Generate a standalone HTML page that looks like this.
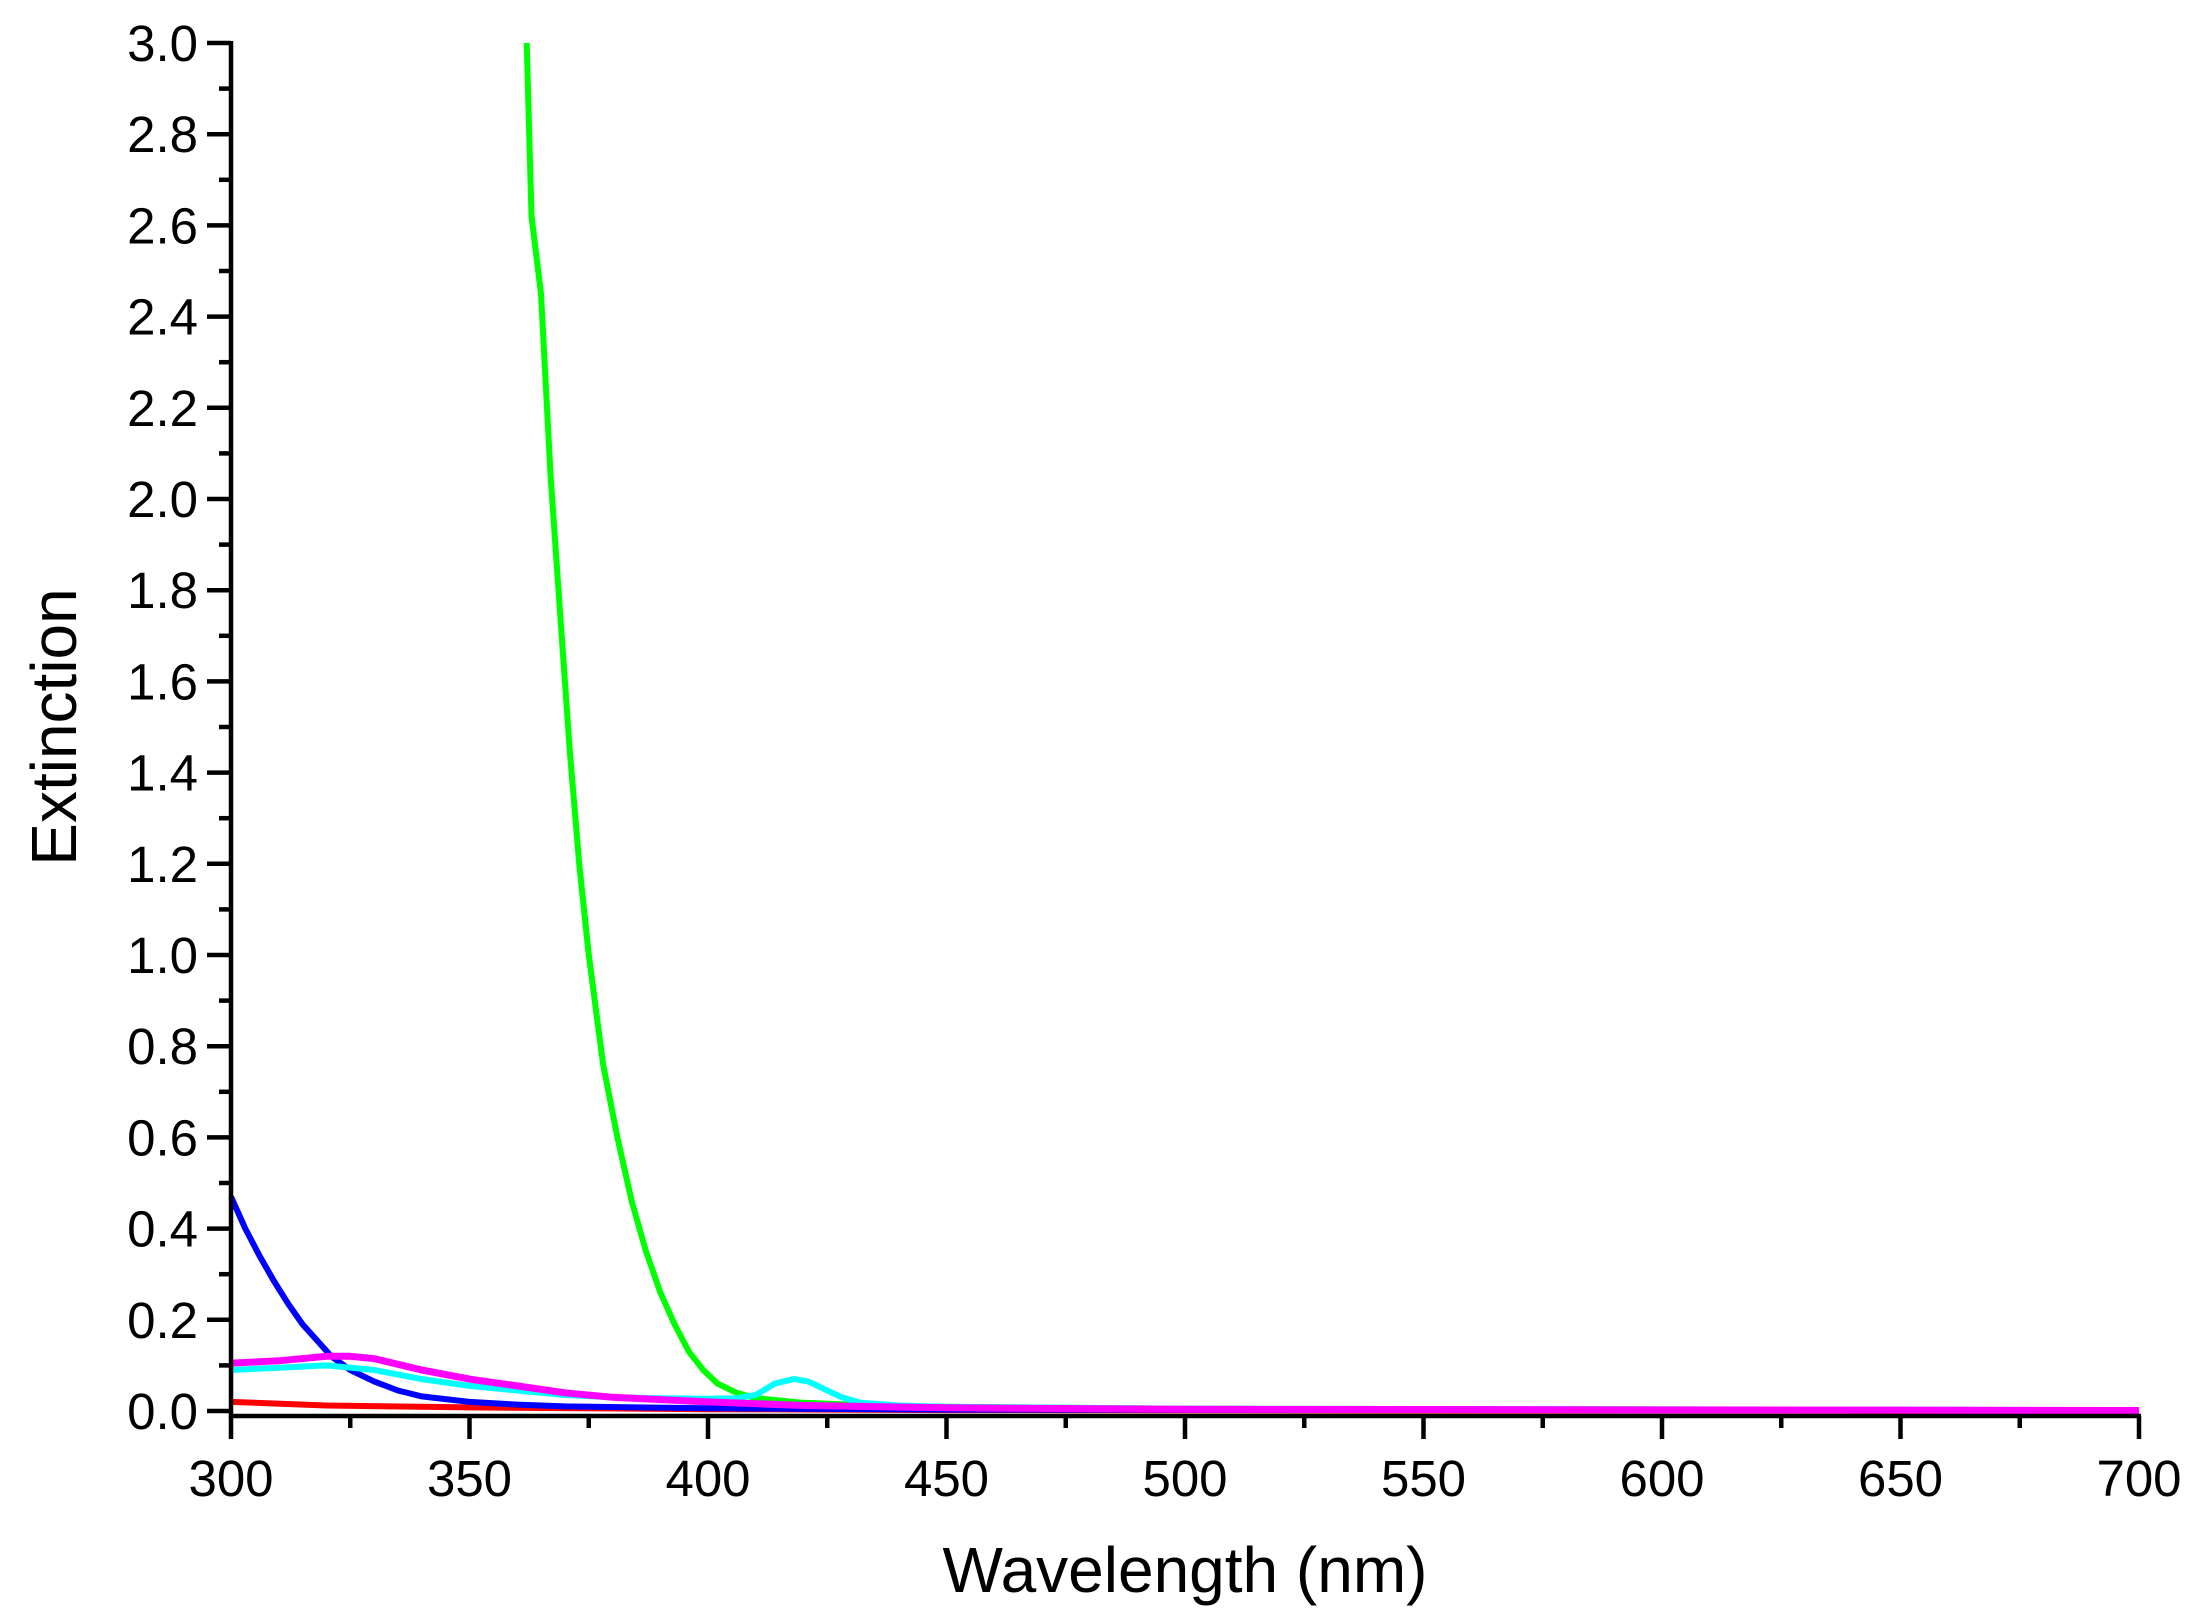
<!DOCTYPE html>
<html><head><meta charset="utf-8"><style>
body{margin:0;background:#fff}
svg{display:block;font-family:"Liberation Sans",Arial,sans-serif}
</style></head><body>
<svg id="chart" width="2197" height="1617" viewBox="0 0 2197 1617" xmlns="http://www.w3.org/2000/svg">
<g id="plot"></g>
<g id="axes"></g>
<text x="1185" y="1592" font-size="64" text-anchor="middle">Wavelength (nm)</text>
<text transform="translate(76,727) rotate(-90)" font-size="64" text-anchor="middle">Extinction</text>
</svg>
<script>
const xTicks=[300,350,400,450,500,550,600,650,700];
const yTicks=[0,0.2,0.4,0.6,0.8,1.0,1.2,1.4,1.6,1.8,2.0,2.2,2.4,2.6,2.8,3.0];
const yTickLabels=["0.0","0.2","0.4","0.6","0.8","1.0","1.2","1.4","1.6","1.8","2.0","2.2","2.4","2.6","2.8","3.0"];
const redX=[300,320,350,400,450,550,700];
const redY=[0.02,0.012,0.008,0.004,0.002,0.001,0];
const blueX=[300,303,306,309,312,315,318,321,325,330,335,340,350,360,370,400,450,700];
const blueY=[0.47,0.4,0.34,0.285,0.235,0.19,0.155,0.12,0.09,0.065,0.045,0.032,0.02,0.014,0.01,0.006,0.003,0.001];
const greenX=[362,363,365,367,369,371,373,375,378,381,384,387,390,393,396,399,402,406,410,420,440,500,700];
const greenY=[3.0,2.62,2.45,2.05,1.75,1.45,1.2,1.0,0.76,0.6,0.46,0.35,0.26,0.19,0.13,0.09,0.06,0.04,0.028,0.018,0.01,0.005,0.002];
const cyanX=[300,310,320,330,340,350,360,370,380,390,400,406,410,414,418,421,424,428,432,440,450,500,700];
const cyanY=[0.09,0.095,0.1,0.09,0.07,0.055,0.045,0.035,0.03,0.028,0.027,0.028,0.035,0.06,0.07,0.065,0.05,0.03,0.018,0.012,0.009,0.005,0.002];
const magX=[300,310,320,325,330,340,350,360,370,380,400,420,450,500,700];
const magY=[0.105,0.11,0.12,0.12,0.115,0.09,0.07,0.055,0.04,0.03,0.02,0.012,0.007,0.004,0.001];

const NS="http://www.w3.org/2000/svg";
const X0=231,X1=2139,Y0=1411,Y3=43;
const sx=v=>X0+(v-300)/400*(X1-X0);
const sy=v=>Y0-v/3*(Y0-Y3);
const plot=document.getElementById('plot'),axes=document.getElementById('axes');
function mk(tag,attrs,parent){const e=document.createElementNS(NS,tag);for(const k in attrs)e.setAttribute(k,attrs[k]);parent.appendChild(e);return e;}
function series(xs,ys,color,w,name){
  const d=xs.map((x,i)=>(i?'L':'M')+sx(x).toFixed(1)+','+sy(ys[i]).toFixed(1)).join('');
  const p=mk('path',{d:d,fill:'none',stroke:color,'stroke-width':w,'stroke-linejoin':'round'},plot);
  
  
}
series(redX,redY,'#ff0000',6,'series-red');
series(blueX,blueY,'#0000ff',6,'series-blue');
series(greenX,greenY,'#00ff00',6,'series-green');
series(cyanX,cyanY,'#00ffff',6,'series-cyan');
series(magX,magY,'#ff00ff',7,'series-magenta');
const ya=mk('line',{x1:X0,y1:Y3-2,x2:X0,y2:1418,stroke:'#000','stroke-width':4.5},axes);

const xa=mk('line',{x1:X0-2,y1:1416,x2:X1+2,y2:1416,stroke:'#000','stroke-width':4.5},axes);

yTicks.forEach((v,i)=>{
  const y=sy(v);
  const t=mk('line',{x1:X0-24,y1:y,x2:X0,y2:y,stroke:'#000','stroke-width':4.5},axes);
  
  if(i<yTicks.length-1){const m=mk('line',{x1:X0-12,y1:sy(v+0.1),x2:X0,y2:sy(v+0.1),stroke:'#000','stroke-width':4.5},axes);
  }
  const l=mk('text',{x:198,y:y+18,'font-size':51,'text-anchor':'end'},axes);l.textContent=yTickLabels[i];
  
});
xTicks.forEach((v,i)=>{
  const x=sx(v);
  const t=mk('line',{x1:x,y1:1416,x2:x,y2:1439,stroke:'#000','stroke-width':4.5},axes);
  
  if(i<xTicks.length-1){const m=mk('line',{x1:sx(v+25),y1:1416,x2:sx(v+25),y2:1428,stroke:'#000','stroke-width':4.5},axes);
  }
  const l=mk('text',{x:x,y:1496,'font-size':51,'text-anchor':'middle'},axes);l.textContent=String(v);
  
});
</script>
</body></html>
